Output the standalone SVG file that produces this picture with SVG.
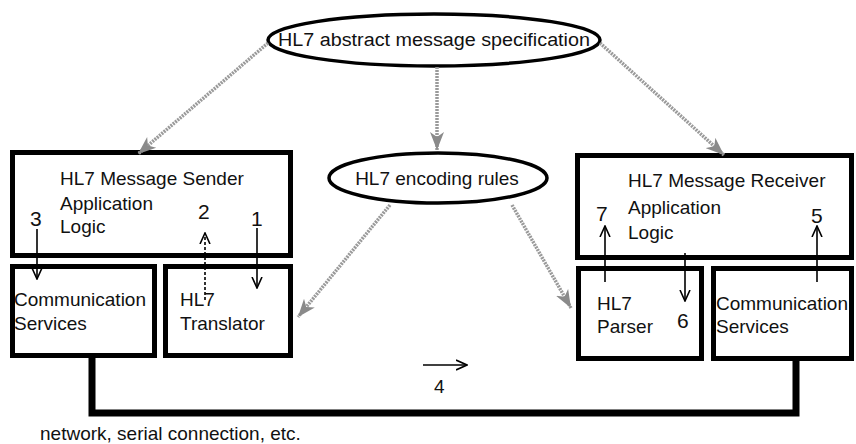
<svg xmlns="http://www.w3.org/2000/svg" width="856" height="444" viewBox="0 0 856 444">
<style>
text{font-family:"Liberation Sans",Arial,sans-serif;fill:#111;}
.lbl{font-size:19px;}
.num{font-size:21px;}
.box{fill:#fff;stroke:#000;stroke-width:5;}
.ell{fill:#fff;stroke:#000;stroke-width:3.5;}
.g{fill:none;stroke:#9a9a9a;stroke-width:3.5;stroke-dasharray:2 1;marker-end:url(#ga);}
.b{fill:none;stroke:#000;stroke-width:1.6;marker-end:url(#ba);}
.net{fill:none;stroke:#000;stroke-width:7;}
</style>
<defs>
<marker id="ga" markerUnits="userSpaceOnUse" markerWidth="20" markerHeight="16" refX="18" refY="8" orient="auto">
<path d="M0,1 L18,8 L0,15 L5,8 Z" fill="#8a8a8a"/>
</marker>
<marker id="ba" markerUnits="userSpaceOnUse" markerWidth="12" markerHeight="12" refX="11" refY="6" orient="auto">
<path d="M0,1 L11,6 L0,11" fill="none" stroke="#000" stroke-width="1.6"/>
</marker>
</defs>
<rect width="856" height="444" fill="#fff"/>
<g id="spec">
<ellipse class="ell" cx="434" cy="40" rx="166" ry="26"/>
<text x="434" y="46" font-size="18" text-anchor="middle" textLength="312" lengthAdjust="spacingAndGlyphs">HL7 abstract message specification</text>
</g>
<g id="encoding">
<ellipse class="ell" cx="438" cy="178" rx="109" ry="25"/>
<text class="lbl" x="437" y="185" text-anchor="middle">HL7 encoding rules</text>
</g>
<g id="sender">
<rect class="box" x="12.5" y="152.5" width="278" height="103"/>
<text class="lbl" x="60" y="185">HL7 Message Sender</text>
<text class="lbl" x="60" y="210">Application</text>
<text class="lbl" x="60" y="233">Logic</text>
</g>
<g id="comm-left">
<rect class="box" x="12.5" y="266.5" width="142" height="89"/>
<text class="lbl" x="14" y="306">Communication</text>
<text class="lbl" x="14" y="330">Services</text>
</g>
<g id="translator">
<rect class="box" x="165.5" y="266.5" width="125" height="89"/>
<text class="lbl" x="180" y="306">HL7</text>
<text class="lbl" x="180" y="330">Translator</text>
</g>
<g id="receiver">
<rect class="box" x="577.5" y="155.5" width="274" height="102"/>
<text class="lbl" x="628" y="187">HL7 Message Receiver</text>
<text class="lbl" x="628" y="214">Application</text>
<text class="lbl" x="628" y="239">Logic</text>
</g>
<g id="parser">
<rect class="box" x="578.5" y="268.5" width="123" height="90"/>
<text class="lbl" x="597" y="310">HL7</text>
<text class="lbl" x="597" y="333">Parser</text>
</g>
<g id="comm-right">
<rect class="box" x="713.5" y="268.5" width="138" height="90"/>
<text class="lbl" x="716" y="310">Communication</text>
<text class="lbl" x="716" y="333">Services</text>
</g>
<g id="connectors">
<path class="g" d="M268,43 L138,154"/>
<path class="g" d="M437,67 L437,150"/>
<path class="g" d="M600,43 L724,155"/>
<path class="g" d="M390,205 L298,317"/>
<path class="g" d="M512,205 L571,308"/>
<path class="net" d="M92,358 V413 H796 V361"/>
<path class="b" d="M37,229 V279"/>
<path class="b" d="M205,300 V233" stroke-dasharray="3 2"/>
<path class="b" d="M257,228 V288"/>
<path class="b" d="M605,282 V226"/>
<path class="b" d="M817,282 V226"/>
<path class="b" d="M685,253 V301"/>
<path class="b" d="M423,365 H467"/>
</g>
<g id="labels">
<text class="num" x="30" y="226">3</text>
<text class="num" x="198" y="219">2</text>
<text class="num" x="251" y="226">1</text>
<text class="num" x="596" y="221">7</text>
<text class="num" x="811" y="223">5</text>
<text class="num" x="677" y="328">6</text>
<text class="lbl" x="434" y="393">4</text>
<text class="lbl" x="40" y="440">network, serial connection, etc.</text>
</g>
</svg>
